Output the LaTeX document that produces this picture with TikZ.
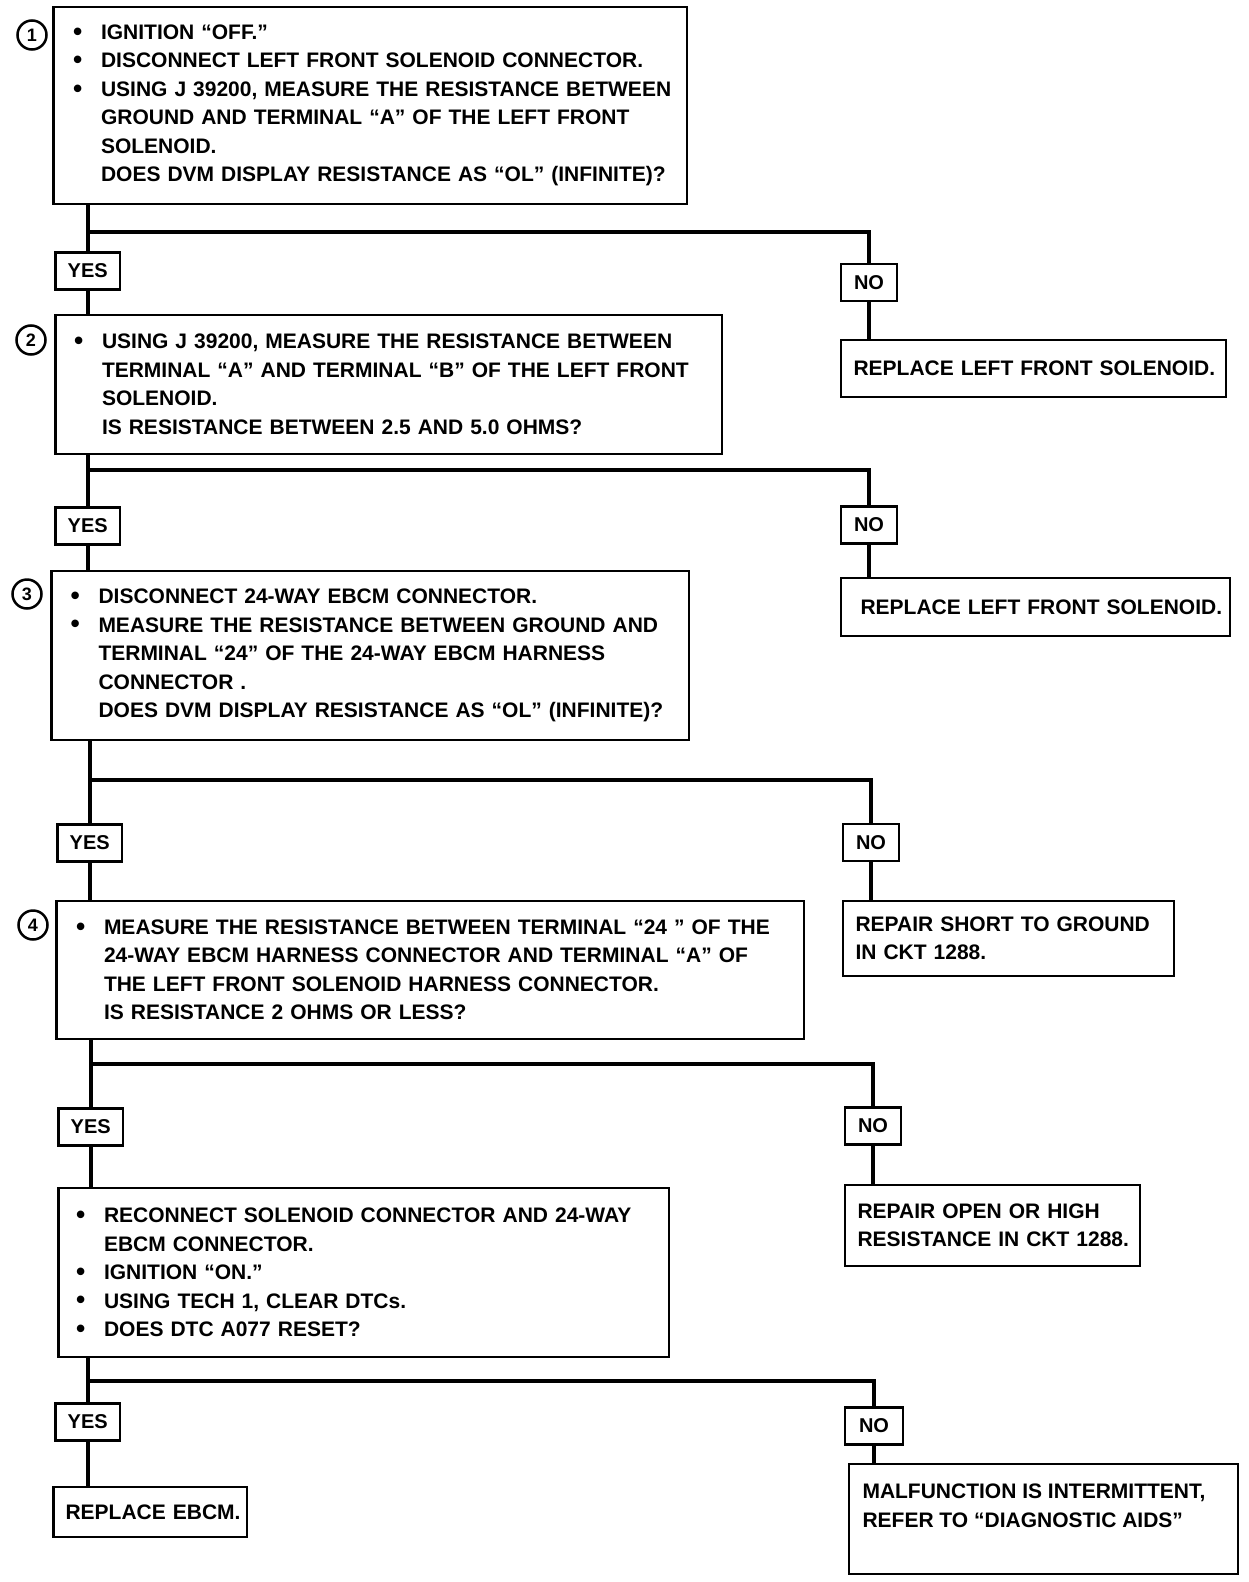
\documentclass[tikz,border=0pt]{standalone}
\usepackage{fontspec}
\setmainfont{Liberation Sans}
\newcommand\diagfont{\fontsize{21}{28.5}\selectfont\bfseries}
\newcommand\ansfont{\fontsize{20}{24}\selectfont\bfseries}
\newcommand\numfont{\fontsize{18}{20}\selectfont\bfseries}
\newcommand\bul[1]{\makebox[28pt][l]{\raisebox{-0.6pt}{\scalebox{1.25}{\textbullet}}}\mbox{#1}}
\newcommand\cont[1]{\hspace*{28pt}\mbox{#1}}
\newcommand\txt[1]{\mbox{#1}}
\tikzset{
  diagbox/.style={draw,line width=2.5pt,anchor=north west,outer sep=0pt,align=left,font=\diagfont,inner ysep=0pt},
  answbox/.style={draw,line width=2.5pt,outer sep=0pt,inner sep=0pt,minimum height=37pt,font=\ansfont},
  stepnum/.style={circle,draw,line width=2.5pt,minimum size=29pt,inner sep=0pt,font=\numfont},
  flowline/.style={line width=4pt},
}
\begin{document}
\begin{tikzpicture}[x=1pt,y=-1pt]
\useasboundingbox (0,0) rectangle (1248,1582);
% test steps
\node[diagbox,text width=594.5pt,inner xsep=19.5pt,minimum height=197pt] (s1) at (53.5,7){\bul{IGNITION “OFF.”}\\\bul{DISCONNECT LEFT FRONT SOLENOID CONNECTOR.}\\\bul{USING J 39200, MEASURE THE RESISTANCE BETWEEN}\\\cont{GROUND AND TERMINAL “A” OF THE LEFT FRONT}\\\cont{SOLENOID.}\\\cont{DOES DVM DISPLAY RESISTANCE AS “OL” (INFINITE)?}};
\node[diagbox,text width=629.5pt,inner xsep=18.5pt,minimum height=139pt] (s2) at (55.5,315){\bul{USING J 39200, MEASURE THE RESISTANCE BETWEEN}\\\cont{TERMINAL “A” AND TERMINAL “B” OF THE LEFT FRONT}\\\cont{SOLENOID.}\\\cont{IS RESISTANCE BETWEEN 2.5 AND 5.0 OHMS?}};
\node[diagbox,text width=599.5pt,inner xsep=19pt,minimum height=169pt] (s3) at (51.5,571){\bul{DISCONNECT 24-WAY EBCM CONNECTOR.}\\\bul{MEASURE THE RESISTANCE BETWEEN GROUND AND}\\\cont{TERMINAL “24” OF THE 24-WAY EBCM HARNESS}\\\cont{CONNECTOR .}\\\cont{DOES DVM DISPLAY RESISTANCE AS “OL” (INFINITE)?}};
\node[diagbox,text width=708.5pt,inner xsep=19.5pt,minimum height=138pt] (s4) at (56.5,901){\bul{MEASURE THE RESISTANCE BETWEEN TERMINAL “24 ” OF THE}\\\cont{24-WAY EBCM HARNESS CONNECTOR AND TERMINAL “A” OF}\\\cont{THE LEFT FRONT SOLENOID HARNESS CONNECTOR.}\\\cont{IS RESISTANCE 2 OHMS OR LESS?}};
\node[diagbox,text width=575.5pt,inner xsep=17.5pt,minimum height=169pt] (s5) at (58.5,1188){\bul{RECONNECT SOLENOID CONNECTOR AND 24-WAY}\\\cont{EBCM CONNECTOR.}\\\bul{IGNITION “ON.”}\\\bul{USING TECH 1, CLEAR DTCs.}\\\bul{DOES DTC A077 RESET?}};
% step numbers
\node[stepnum] (n1) at (32,35){1};
\node[stepnum] (n2) at (31,340){2};
\node[stepnum] (n3) at (27,594){3};
\node[stepnum] (n4) at (33,925){4};
% results
\node[diagbox,text width=360pt,inner xsep=12.5pt,minimum height=57pt] (r1) at (841,340){\txt{REPLACE LEFT FRONT SOLENOID.}};
\node[diagbox,text width=350pt,inner xsep=19.5pt,minimum height=58pt] (r2) at (841,578){\txt{REPLACE LEFT FRONT SOLENOID.}};
\node[diagbox,text width=306pt,inner xsep=12.5pt,minimum height=75pt] (r3) at (843,901){\txt{REPAIR SHORT TO GROUND}\\\txt{IN CKT 1288.}};
\node[diagbox,text width=270pt,inner xsep=12.5pt,minimum height=81pt] (r4) at (845,1185){\txt{REPAIR OPEN OR HIGH}\\\txt{RESISTANCE IN CKT 1288.}};
\node[diagbox,text width=169.5pt,inner xsep=12pt,minimum height=50pt] (r5) at (53.5,1487){\txt{REPLACE EBCM.}};
\node[diagbox,inner xsep=13.5pt,inner ysep=20pt] (r6) at (849,1464){\parbox[t][70pt][t]{362pt}{\txt{MALFUNCTION IS INTERMITTENT,}\\\txt{REFER TO “DIAGNOSTIC AIDS”}}};
% answers
\node[answbox,minimum width=64.5pt] (y1) at (87.75,271){YES};
\node[answbox,minimum width=56pt] (no1) at (869,282.5){NO};
\node[answbox,minimum width=64.5pt] (y2) at (87.75,526){YES};
\node[answbox,minimum width=56pt] (no2) at (869,525){NO};
\node[answbox,minimum width=64.5pt] (y3) at (89.75,843){YES};
\node[answbox,minimum width=56pt] (no3) at (871,842.5){NO};
\node[answbox,minimum width=64.5pt] (y4) at (90.75,1127){YES};
\node[answbox,minimum width=56pt] (no4) at (873,1126){NO};
\node[answbox,minimum width=64.5pt] (y5) at (87.75,1422){YES};
\node[answbox,minimum width=58pt] (no5) at (874,1426){NO};
% branch points
\coordinate (j1) at (87.75,232);
\coordinate (j2) at (87.75,470);
\coordinate (j3) at (89.75,780);
\coordinate (j4) at (90.75,1064);
\coordinate (j5) at (87.75,1381);
% yes path
\draw[flowline] (s1.south -| y1) -- (y1.north);
\draw[flowline] (y1.south) -- (s2.north -| y1);
\draw[flowline] (s2.south -| y2) -- (y2.north);
\draw[flowline] (y2.south) -- (s3.north -| y2);
\draw[flowline] (s3.south -| y3) -- (y3.north);
\draw[flowline] (y3.south) -- (s4.north -| y3);
\draw[flowline] (s4.south -| y4) -- (y4.north);
\draw[flowline] (y4.south) -- (s5.north -| y4);
\draw[flowline] (s5.south -| y5) -- (y5.north);
\draw[flowline] (y5.south) -- (r5.north -| y5);
% no path
\draw[flowline] (j1) -| (no1.north);
\draw[flowline] (no1.south) -- (r1.north -| no1);
\draw[flowline] (j2) -| (no2.north);
\draw[flowline] (no2.south) -- (r2.north -| no2);
\draw[flowline] (j3) -| (no3.north);
\draw[flowline] (no3.south) -- (r3.north -| no3);
\draw[flowline] (j4) -| (no4.north);
\draw[flowline] (no4.south) -- (r4.north -| no4);
\draw[flowline] (j5) -| (no5.north);
\draw[flowline] (no5.south) -- (r6.north -| no5);
\end{tikzpicture}
\end{document}
